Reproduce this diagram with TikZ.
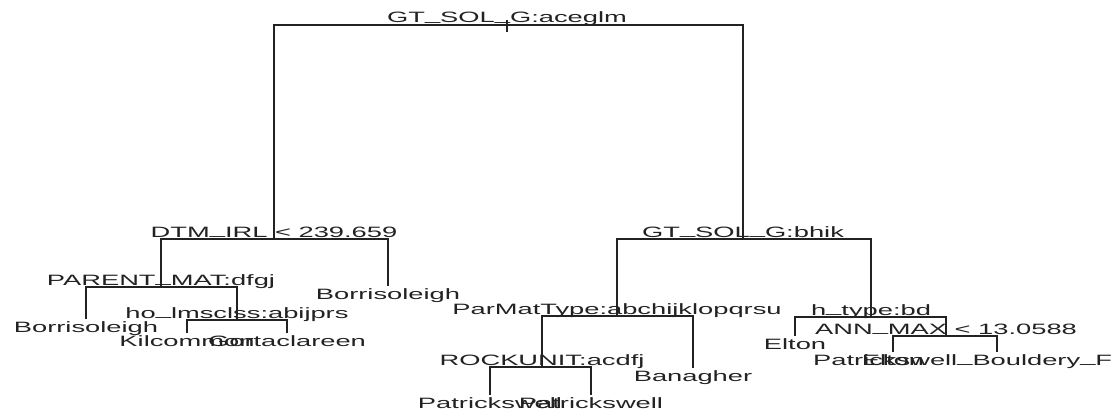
\documentclass[tikz,border=0pt]{standalone}
\usepackage{fontspec}
\setmainfont{Liberation Sans}[FakeStretch=1.82]
\usetikzlibrary{positioning}
\usepackage{xcolor}
\definecolor{treeInk}{HTML}{222222}
\newcommand{\usc}{\raisebox{2.5pt}{\_}}

\begin{document}
\begin{tikzpicture}[
    x=1pt, y=-1pt,
    every node/.style={inner sep=0pt, text=treeInk, font=\fontsize{15}{18}\selectfont},
    split/.style={anchor=base, yshift=2pt},
    leaf/.style={anchor=base, yshift=-13pt},
    branch/.style={draw=treeInk, line width=1.4pt}
]
    \useasboundingbox (0,0) rectangle (1113,412);
    \clip (0,0) rectangle (1113,412);

    \coordinate (root) at (507,25);
    \coordinate (dtm) at (274,239);
    \coordinate (gtsol) at (743,239);
    \coordinate (parmat) at (161,287);
    \coordinate (borr2) at (388,286);
    \coordinate (borr1) at (86,319);
    \coordinate (holms) at (237,320);
    \coordinate (kilc) at (187,333);
    \coordinate (gort) at (287,333);
    \coordinate (parmtype) at (617,316);
    \coordinate (htype) at (871,317);
    \coordinate (rock) at (542,367);
    \coordinate (banag) at (693,368);
    \coordinate (pat1) at (490,395);
    \coordinate (pat2) at (591,395);
    \coordinate (elton1) at (795,336);
    \coordinate (annmax) at (946,336);
    \coordinate (elton2) at (893,352);
    \coordinate (patbould) at (997,352);

    \node[split] (rootL) at (root) {GT\usc SOL\usc G:aceglm};
    \node[split] (dtmL) at (dtm) {DTM\usc IRL < 239.659};
    \node[split] (gtsolL) at (gtsol) {GT\usc SOL\usc G:bhik};
    \node[split] (parmatL) at (parmat) {PARENT\usc MAT:dfgj};
    \node[split] (holmsL) at (holms) {ho\usc lmsclss:abijprs};
    \node[split] (parmtypeL) at (parmtype) {ParMatType:abchijklopqrsu};
    \node[split] (htypeL) at (htype) {h\usc type:bd};
    \node[split] (rockL) at (rock) {ROCKUNIT:acdfj};
    \node[split] (annmaxL) at (annmax) {ANN\usc MAX < 13.0588};

    \node[leaf] (borr1L) at (borr1) {Borrisoleigh};
    \node[leaf] (borr2L) at (borr2) {Borrisoleigh};
    \node[leaf] (kilcL) at (kilc) {Kilcommon};
    \node[leaf] (gortL) at (gort) {Gortaclareen};
    \node[leaf] (pat1L) at (pat1) {Patrickswell};
    \node[leaf] (pat2L) at (pat2) {Patrickswell};
    \node[leaf] (banagL) at (banag) {Banagher};
    \node[leaf] (elton1L) at (elton1) {Elton};
    \node[leaf] (elton2L) at (elton2) {Elton};
    \node[leaf, anchor=base west] (patbouldL) at (813,352) {Patrickswell\usc Bouldery\usc F};

    \draw[branch] (dtm) |- (root) -| (gtsol);
    \draw[branch] ([yshift=5pt]root) -- ([yshift=-7pt]root);
    \draw[branch] (parmat) |- (dtm) -| (borr2);
    \draw[branch] (borr1) |- (parmat) -| (holms);
    \draw[branch] (kilc) |- (holms) -| (gort);
    \draw[branch] (parmtype) |- (gtsol) -| (htype);
    \draw[branch] (rock) |- (parmtype) -| (banag);
    \draw[branch] (pat1) |- (rock) -| (pat2);
    \draw[branch] (elton1) |- (htype) -| (annmax);
    \draw[branch] (elton2) |- (annmax) -| (patbould);
\end{tikzpicture}
\end{document}
